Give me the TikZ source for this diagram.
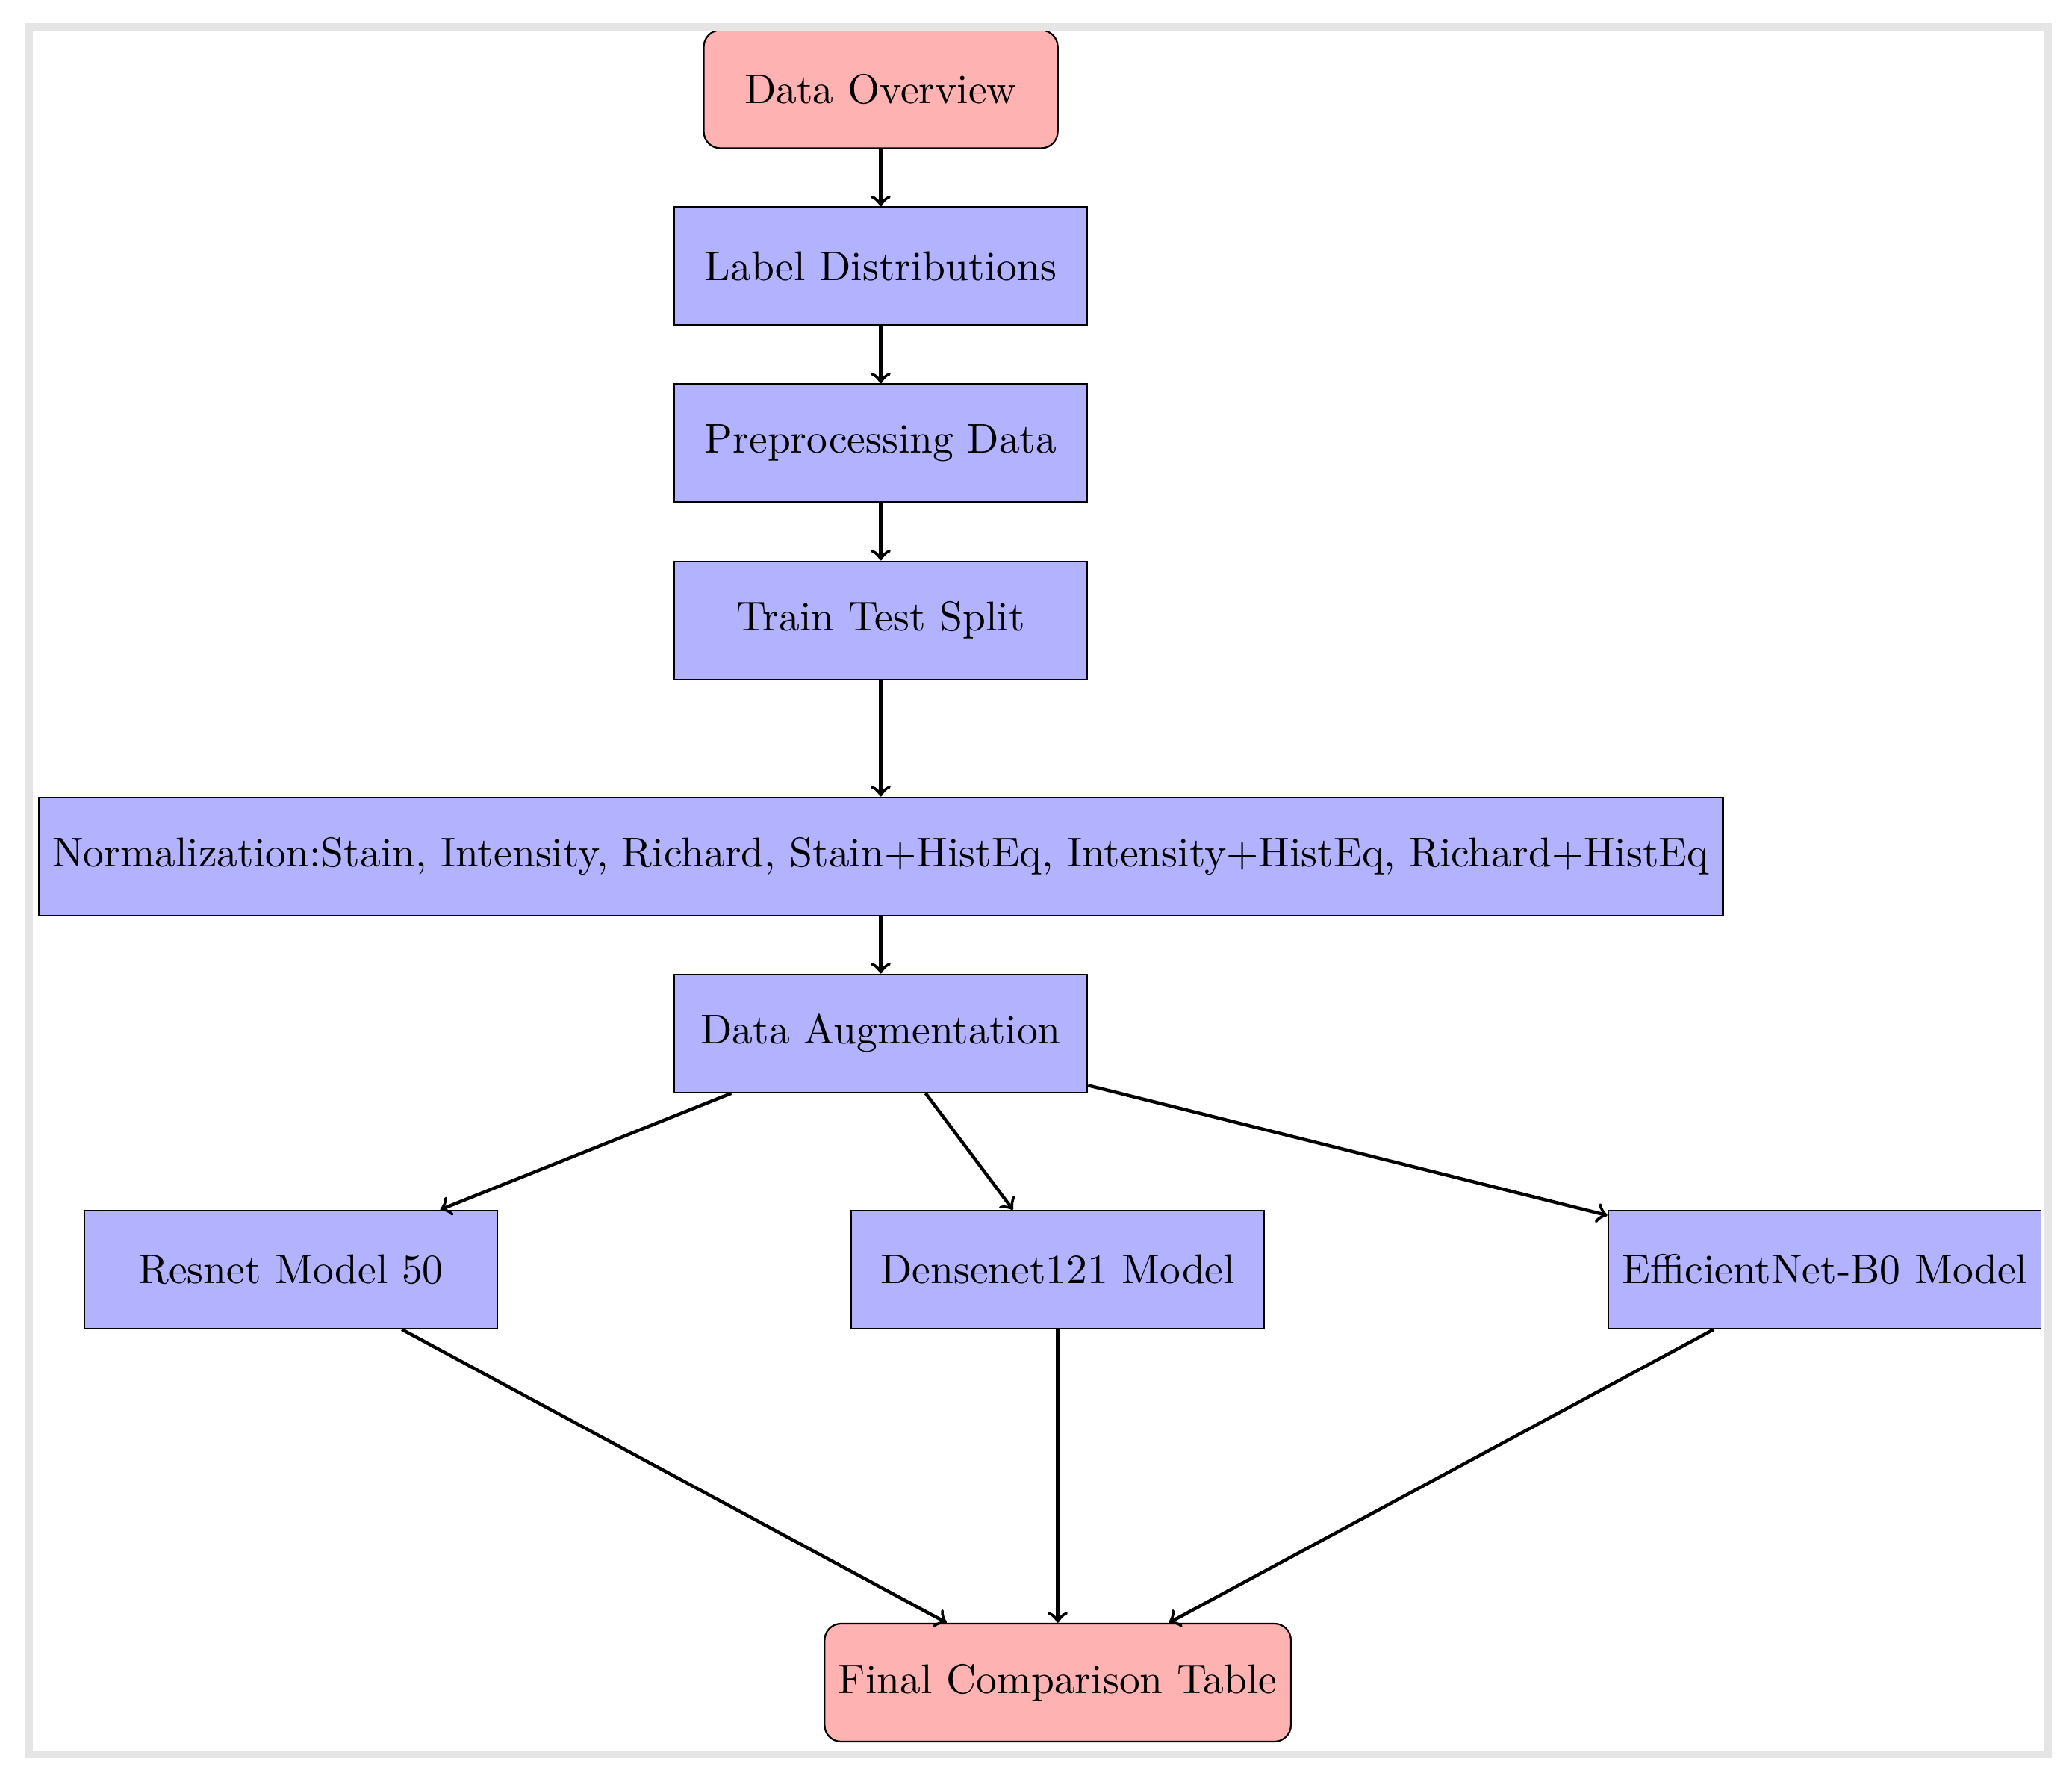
\documentclass[tikz,border=0pt]{standalone}
\begin{document}
\begin{tikzpicture}[
    startstop/.style={rectangle, rounded corners, minimum width=3cm, minimum height=1cm, text centered, draw=black, fill=red!30},
    process/.style={rectangle, minimum width=3.5cm, minimum height=1cm, text centered, draw=black, fill=blue!30},
    arrow/.style={thick,->}]
      \useasboundingbox (-7.464,0.756) rectangle (10.095,-14.362);
      \draw
        (0,0) node[startstop] (overview){Data Overview}
        (0,-1.5) node[process] (labels){Label Distributions}
        (0,-3) node[process] (prep){Preprocessing Data}
        (0,-4.5) node[process] (split){Train Test Split}
        (0,-6.5) node[process] (norm){Normalization:Stain, Intensity, Richard, Stain+HistEq, Intensity+HistEq, Richard+HistEq}
        (0,-8) node[process] (aug){Data Augmentation}
        (-5,-10) node[process] (resnet){Resnet Model 50}
        (1.5,-10) node[process] (densenet){Densenet121 Model}
        (8,-10) node[process] (effnet){EfficientNet-B0 Model}
        (1.5,-13.5) node[startstop] (final){Final Comparison Table};
      \begin{scope}[arrow]
        \draw (overview) to (labels);
        \draw (labels) to (prep);
        \draw (prep) to (split);
        \draw (split) to (norm);
        \draw (norm) to (aug);
        \draw (aug) to (resnet);
        \draw (aug) to (densenet);
        \draw (aug) to (effnet);
        \draw (resnet) to (final);
        \draw (densenet) to (final);
        \draw (effnet) to (final);
      \end{scope}
      % page frame
      \fill[white] (9.83,-9.4) rectangle (9.89,-10.6);
      \draw[gray!20, line width=1.8pt] (-7.22,0.53) rectangle (9.89,-14.11);
    \end{tikzpicture}
\end{document}
